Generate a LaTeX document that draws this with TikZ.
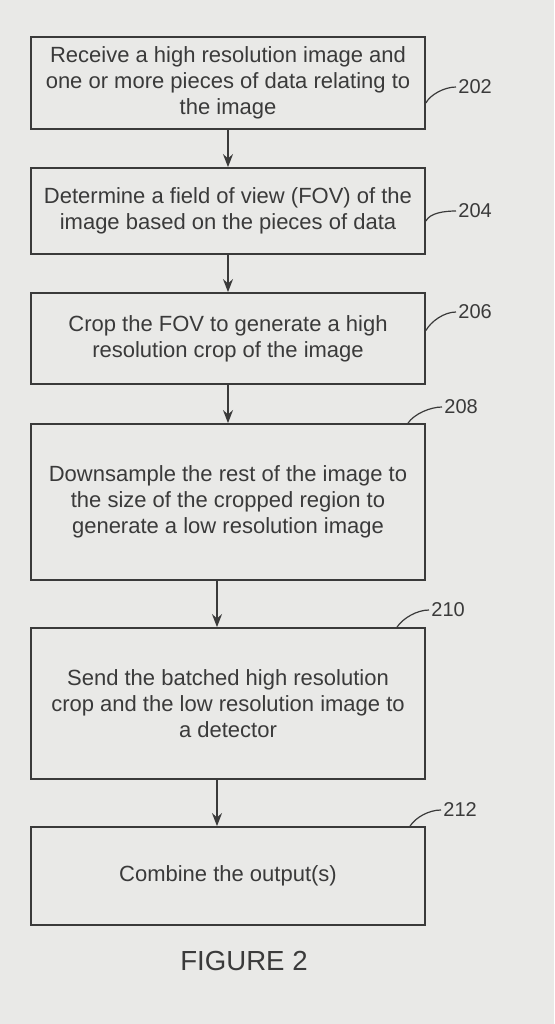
\documentclass[tikz,border=0pt]{standalone}
\usepackage{fontspec}
\setmainfont{Liberation Sans}
\usetikzlibrary{positioning,calc,arrows.meta}

\definecolor{ink}{HTML}{3A3A3A}
\definecolor{paper}{HTML}{E9E9E7}

\begin{document}
\begin{tikzpicture}[x=0.5pt, y=-0.5pt,
    flow/.style={rectangle, draw=ink, line width=0.9pt, fill=paper, text=ink, align=center,
        minimum width=197pt, inner sep=0pt, font=\fontsize{11}{13}\selectfont},
    ref/.style={text=ink, inner sep=1pt, font=\fontsize{10}{11}\selectfont},
    arrow/.style={-{Stealth[length=6.5pt,width=5pt]}, line width=0.8pt, draw=ink},
    lead/.style={draw=ink, line width=0.6pt}
]
    \fill[paper] (0,0) rectangle (554,1024);
    \useasboundingbox (0,0) rectangle (554,1024);

    \node[flow, minimum height=46pt] (b1) at (228,83)
        {Receive a high resolution image and\\one or more pieces of data relating to\\the image};
    \node[flow, minimum height=43pt] (b2) at (228,211)
        {Determine a field of view (FOV) of the\\image based on the pieces of data};
    \node[flow, minimum height=45.5pt] (b3) at (228,338.5)
        {Crop the FOV to generate a high\\resolution crop of the image};
    \node[flow, minimum height=78pt] (b4) at (228,502)
        {Downsample the rest of the image to\\the size of the cropped region to\\generate a low resolution image};
    \node[flow, minimum height=75.5pt] (b5) at (228,703.5)
        {Send the batched high resolution\\crop and the low resolution image to\\a detector};
    \node[flow, minimum height=49pt] (b6) at (228,876)
        {Combine the output(s)};

    \node[ref, anchor=west] (r202) at (456,87) {202};
    \node[ref, anchor=west] (r204) at (456,211) {204};
    \node[ref, anchor=west] (r206) at (456,312) {206};
    \node[ref, anchor=west] (r208) at (442,407) {208};
    \node[ref, anchor=west] (r210) at (429,610) {210};
    \node[ref, anchor=west] (r212) at (441,810) {212};

    \node[text=ink, font=\fontsize{13.8}{16}\selectfont] (fig) at (244,961) {FIGURE 2};

    \draw[arrow] (b1) -- (b2);
    \draw[arrow] (b2) -- (b3);
    \draw[arrow] (b3) -- (b4);
    \draw[arrow] ([xshift=-5.5pt]b4.south) -- ([xshift=-5.5pt]b5.north);
    \draw[arrow] ([xshift=-5.5pt]b5.south) -- ([xshift=-5.5pt]b6.north);

    % reference leaders
    \draw[lead] ([yshift=-10pt]b1.east) .. controls +(4,-8) and +(-12,0) .. (r202.west);
    \draw[lead] ([yshift=-5pt]b2.east) .. controls +(4,-8) and +(-12,0) .. (r204.west);
    \draw[lead] ([yshift=4pt]b3.east) .. controls +(5,-9) and +(-12,0) .. (r206.west);
    \draw[lead] ([xshift=90pt]b4.north) .. controls +(6,-9) and +(-12,0) .. (r208.west);
    \draw[lead] ([xshift=84.5pt]b5.north) .. controls +(6,-9) and +(-12,0) .. (r210.west);
    \draw[lead] ([xshift=91pt]b6.north) .. controls +(6,-9) and +(-12,0) .. (r212.west);
\end{tikzpicture}
\end{document}
